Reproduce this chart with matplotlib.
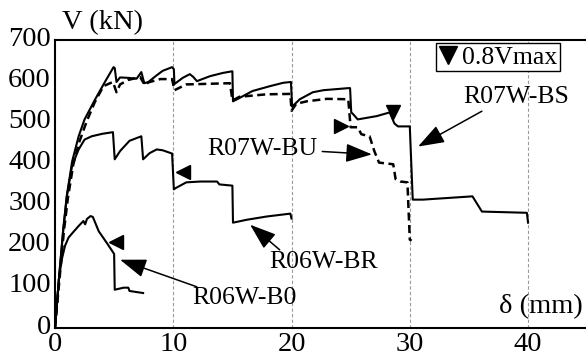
import matplotlib
matplotlib.use("Agg")
import matplotlib.pyplot as plt
from matplotlib.lines import Line2D
from matplotlib.transforms import ScaledTranslation

plt.rcParams['font.family'] = ['Liberation Serif', 'DejaVu Serif']

# ---------------- data ----------------
bs_x = [0, 0.35, 0.7, 1.0, 1.45, 2.0, 2.5, 3.4, 4.2, 4.95, 5.05, 5.2, 5.5, 6.2, 6.9, 7.3, 7.55,
        7.9, 8.5, 9.1, 9.9, 10.05, 10.1, 10.8, 11.4, 11.7, 12.0, 13.1, 14.2, 15.0, 15.05,
        15.4, 16.7, 18.2, 19.3, 19.95, 20.05, 20.7, 21.8, 22.7, 24.8, 24.95, 25.05, 25.2,
        25.6, 27.2, 28.3, 28.7, 29.0, 30.0, 30.25, 31.1, 35.3, 36.1, 39.9, 40.0]
bs_y = [0, 125, 240, 322, 405, 466, 507, 556, 597, 634, 632, 598, 609, 608, 606, 622, 595,
        598, 612, 625, 634, 629, 593, 608, 617, 610, 600, 612, 620, 624, 551,
        556, 576, 588, 596, 598, 538, 556, 573, 578, 583, 583, 524, 520,
        507, 515, 524, 497, 490, 490, 312, 312, 320, 283, 280, 256]

bu_x = [0, 0.4, 0.75, 1.1, 1.55, 2.05, 2.65, 3.35, 4.1, 4.9, 5.2, 5.5, 6.2, 7.2, 7.6, 7.9,
        8.9, 9.9, 10.1, 11.1, 14.8, 15.0, 15.6, 17.9, 19.9, 20.0, 20.4, 21.3, 23.0, 24.8,
        24.9, 25.0, 25.6, 25.9, 26.6, 27.0, 27.4, 28.6, 28.8, 29.2, 29.8, 30.0, 30.15]
bu_y = [0, 125, 235, 318, 398, 452, 500, 548, 588, 598, 573, 592, 603, 610, 590, 597,
        605, 605, 578, 592, 595, 553, 562, 568, 569, 528, 545, 551, 557, 556,
        520, 488, 488, 471, 466, 430, 402, 398, 362, 356, 354, 215, 212]

br_x = [0, 0.35, 0.7, 1.0, 1.45, 2.0, 2.5, 3.1, 4.0, 4.9, 5.05, 5.5, 6.3, 7.3, 7.45, 8.0,
        8.6, 9.1, 9.9, 10.05, 10.2, 11.1, 12.3, 13.7, 13.9, 15.0, 15.05, 16.2, 17.9,
        19.9, 20.0]
br_y = [0, 125, 240, 320, 395, 434, 458, 466, 472, 476, 410, 430, 455, 466, 410, 425,
        434, 432, 424, 337, 340, 354, 356, 356, 349, 346, 256, 263, 271,
        278, 266]

b0_x = [0, 0.15, 0.35, 0.6, 0.85, 1.15, 1.6, 2.0, 2.4, 2.55, 2.7, 3.0, 3.2, 3.7, 4.4, 5.0,
        5.05, 5.8, 6.2, 6.3, 7.45]
b0_y = [0, 55, 125, 170, 200, 220, 235, 248, 260, 252, 265, 272, 270, 235, 206, 180,
        93, 98, 98, 90, 85]

# 0.8Vmax markers (x, y, marker)
mk_x = [5.15, 10.85, 24.2, 28.6]
mk_y = [210, 379, 490, 524]
mk_m = ['<', '<', '>', 'v']

labels = ['R07W-BS', 'R07W-BU', 'R06W-BR', 'R06W-B0']
label_x = [39.0, 17.5, 22.7, 16.0]
label_y = [561, 434, 161, 73]
arrow_tip_x = [30.7, 26.8, 16.5, 5.5]
arrow_tip_y = [441, 422, 251, 166]
arrow_tail_x = [36.1, 22.6, 19.0, 12.0]
arrow_tail_y = [527, 429, 190, 100]

xticks = [0, 10, 20, 30, 40]
yticks = [0, 100, 200, 300, 400, 500, 600, 700]

# ---------------- figure ----------------
fig = plt.figure(figsize=(5.86, 3.57), dpi=100)
ax = fig.add_axes([55/586, 29/357, 531/586, 288/357])
ax.set_xlim(0, 44.9)
ax.set_ylim(0, 700)

for x in xticks[1:]:
    ax.axvline(x, color='#9a9a9a', lw=0.8, ls=(0, (3, 2)), zorder=1)

lw = 1.5
ax.plot(bs_x, bs_y, color='k', lw=lw, zorder=3)
ax.plot(bu_x, bu_y, color='k', lw=1.8, ls=(0, (3.2, 1.8)), zorder=3)
ax.plot(br_x, br_y, color='k', lw=lw, zorder=3)
ax.plot(b0_x, b0_y, color='k', lw=lw, zorder=3)

for x, y, m in zip(mk_x, mk_y, mk_m):
    ax.plot([x], [y], marker=m, color='k', ms=10, ls='none', zorder=4)

fs = 18.5
fs_ax = 20.5
for t, tx, ty in zip(labels, label_x, label_y):
    ax.text(tx, ty, t, fontsize=fs, ha='center', va='center', zorder=5)
for hx, hy, sx, sy in zip(arrow_tip_x, arrow_tip_y, arrow_tail_x, arrow_tail_y):
    ax.annotate('', xy=(hx, hy), xytext=(sx, sy),
                arrowprops=dict(arrowstyle='-|>,head_length=0.9,head_width=0.32',
                                color='k', lw=1.1, mutation_scale=18,
                                shrinkA=0, shrinkB=0), zorder=5)

for s in ['left', 'bottom', 'top']:
    ax.spines[s].set_linewidth(1.5)
ax.spines['right'].set_visible(False)

ax.set_xticks(xticks)
ax.set_yticks(yticks)
ax.tick_params(length=0, labelsize=fs_ax, pad=3)
off = ScaledTranslation(0, 4/100, fig.dpi_scale_trans)
for lab in ax.get_yticklabels():
    lab.set_transform(lab.get_transform() + off)

ax.text(0.013, 1.062, 'V (kN)', transform=ax.transAxes, fontsize=fs_ax,
        ha='left', va='center', clip_on=False)
ax.text(41.1, 51, 'δ (mm)', fontsize=fs_ax, ha='center', va='center')

h = Line2D([], [], marker='v', color='k', ls='none', ms=13)
leg = ax.legend([h], ['0.8Vmax'], loc='upper right',
                bbox_to_anchor=((560-55)/531, (328-43)/288),
                fontsize=fs, frameon=True, fancybox=False, handlelength=0.7,
                handletextpad=0.2, borderpad=0.1, borderaxespad=0,
                edgecolor='k', framealpha=1)
leg.get_frame().set_linewidth(1.0)

fig.savefig('out.png', dpi=100)
